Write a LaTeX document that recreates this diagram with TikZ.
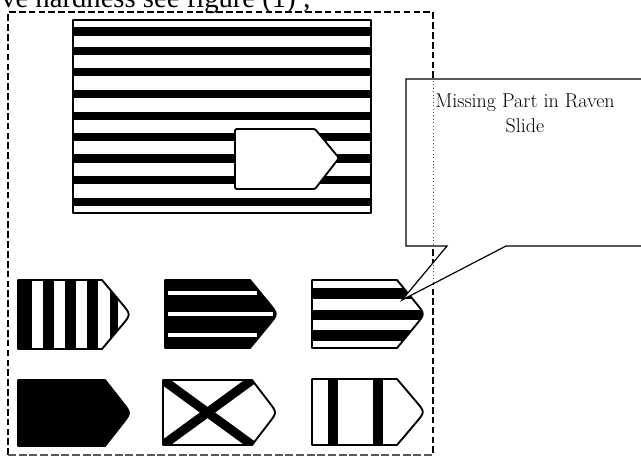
\documentclass[tikz,border=0pt]{standalone}
\usepackage{fontspec}
\newfontfamily\bodyfont{Liberation Serif}
\usetikzlibrary{calc}

% corner points of a tag-shaped tile: left x, top y, shoulder x, tip x, bottom y
\newcommand\placetag[5]{%
  \coordinate (tNW) at (#1,#2);
  \coordinate (tC1) at (#3,#2);
  \coordinate (tT)  at (#4,{(#2+#5)/2});
  \coordinate (tC2) at (#3,#5);
  \coordinate (tSW) at (#1,#5);}
% outline of the current tile, with a rounded tip
\newcommand\tagcontour{(tNW) -- (tC1) -- ($(tT)!0.32!(tC1)$) .. controls (tT) .. ($(tT)!0.32!(tC2)$) -- (tC2) -- (tSW) -- cycle}
% speech bubble with its pointer
\newcommand\bubblecontour{(bNW) -- (bNE) -- (bSE) -- (bPR) -- (bTip) -- (bPL) -- (bSW) -- cycle}

\begin{document}
\begin{tikzpicture}[x=0.75pt,y=-0.75pt,
  framedash/.style={line width=1.6pt,dash pattern=on 5pt off 2.4pt},
  framebase/.style={line width=0.8pt,black!65,dash pattern=on 6pt off 2pt},
  outline/.style={line width=1.4pt,line join=round},
  bubble/.style={line width=0.9pt,line join=miter},
  labeltext/.style={font=\fontsize{15}{18}\selectfont,inner sep=0pt}]

\useasboundingbox (0,0) rectangle (641,457);
\fill[white] (0,0) rectangle (641,457);

% running text above the figure
\node[anchor=base west,inner sep=0pt,font=\bodyfont\fontsize{21.5}{26}\selectfont]
  (caption) at (1,7) {ve hardness see figure (1) ;};

% dashed frame round the figure
\coordinate (fNW) at (8,12);
\coordinate (fNE) at (433,12);
\coordinate (fSE) at (433,455);
\coordinate (fSW) at (8,455);
\draw[framedash] (fSW) -- (fNW) -- (fNE) -- (fSE);
\draw[framebase] (fSW) -- (fSE);

% striped matrix with the missing piece
\coordinate (mNW) at (73,20);
\coordinate (mSE) at (371,213);
\begin{scope}
  \clip (mNW) rectangle (mSE);
  \foreach \yc in {31.5,51,72,94,116,137,158.5,180,202}
    \fill (73,\yc-4.2) rectangle (371,\yc+4.2);
\end{scope}
\draw[outline] (mNW) rectangle (mSE);
\draw[outline,fill=white,rounded corners=1pt]
  (235,129) -- (315,129) -- (339,158) -- (315,189) -- (235,189) -- cycle;

% option 1: vertical stripes
\placetag{18}{280}{102}{131}{349}
\begin{scope}
  \clip \tagcontour;
  \foreach \xa/\xb in {18/32,43/54,65/76,87/98,110/118}
    \fill (\xa,270) rectangle (\xb,360);
\end{scope}
\draw[outline] \tagcontour;

% option 2: black with thin white lines
\placetag{165}{280}{250}{278}{348}
\fill \tagcontour;
\draw[outline] \tagcontour;
\fill[white] (168,291) rectangle (257,295);
\fill[white] (168,312) rectangle (273,316);
\fill[white] (168,333) rectangle (257,337);

% option 3: horizontal stripes
\placetag{312}{280}{397}{425}{348}
\begin{scope}
  \clip \tagcontour;
  \foreach \ya/\yb in {288/299,310/320,330/341}
    \fill (300,\ya) rectangle (440,\yb);
\end{scope}
\draw[outline] \tagcontour;

% option 4: solid black
\placetag{18}{380}{105}{131}{446}
\fill \tagcontour;
\draw[outline] \tagcontour;

% option 5: diagonal cross
\placetag{163}{380}{252}{277}{445}
\begin{scope}
  \clip \tagcontour;
  \draw[line width=6.8pt] (163,380) -- (252,445);
  \draw[line width=6.8pt] (252,380) -- (163,445);
\end{scope}
\draw[outline] \tagcontour;

% option 6: two vertical bars
\placetag{312}{379}{397}{425}{445}
\begin{scope}
  \clip \tagcontour;
  \fill (328,370) rectangle (338,455);
  \fill (373,370) rectangle (383,455);
\end{scope}
\draw[outline] \tagcontour;

% speech bubble pointing at option 3
\coordinate (bNW) at (406,79);
\coordinate (bNE) at (660,79);
\coordinate (bSE) at (660,246);
\coordinate (bPR) at (506,246);
\coordinate (bTip) at (402,300);
\coordinate (bPL) at (447,246);
\coordinate (bSW) at (406,246);
\fill[white] \bubblecontour;
\begin{scope}
  \clip \bubblecontour;
  \draw[dotted,black!70,line width=0.6pt] (433,60) -- (433,320);
\end{scope}
\draw[bubble] \bubblecontour;
\node[labeltext,anchor=base] (note1) at (525,107) {Missing Part in Raven};
\node[labeltext,anchor=base] (note2) at (525,132) {Slide};

\end{tikzpicture}
\end{document}
